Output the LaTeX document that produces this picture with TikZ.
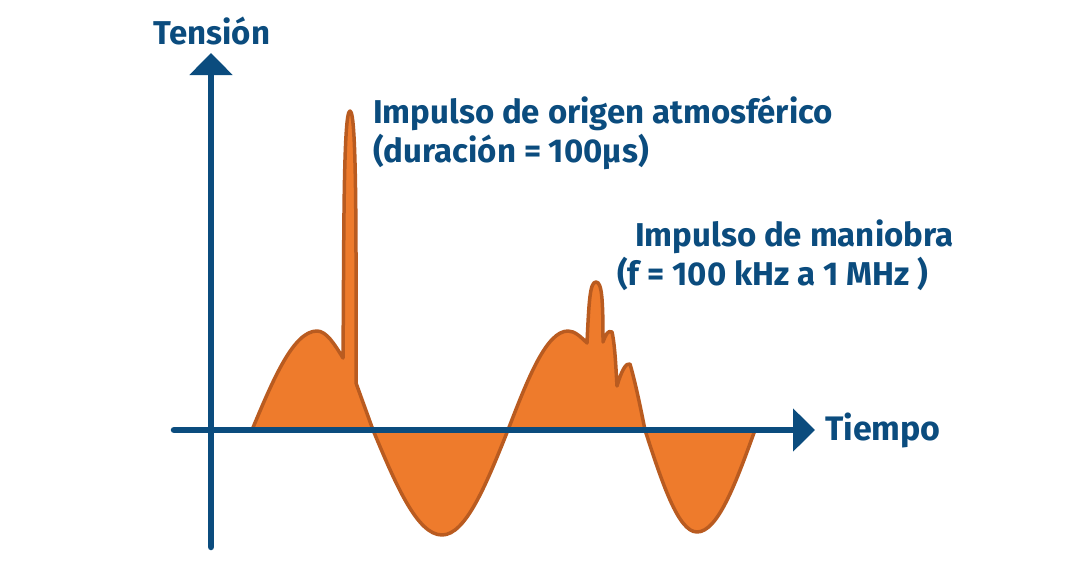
\documentclass[tikz,border=0pt]{standalone}
\usepackage{fontspec}
\setmainfont{Fira Sans}
\usepackage{tikz}
\usetikzlibrary{arrows.meta}
\definecolor{cAxis}{HTML}{0B4C7E}
\definecolor{cWave}{HTML}{EE7B2C}
\definecolor{cWaveLine}{HTML}{B95B20}
\tikzset{
  axisline/.style={line width=6.5pt, cAxis, line cap=round,
                   -{Triangle[length=22pt, width=42pt]}},
  wave/.style={fill=cWave, draw=cWaveLine, line width=3.5pt, line join=round},
  lbl/.style={font=\fontsize{33}{39}\selectfont\bfseries, text=cAxis,
              inner sep=0pt, anchor=base west}
}

\begin{document}
\begin{tikzpicture}[x=1pt, y=-1pt]
\useasboundingbox (0,0) rectangle (1080,565);
\coordinate (yStart) at (211,547);
\coordinate (yEnd) at (211,53);
\coordinate (xStart) at (174,430);
\coordinate (xEnd) at (815,430);
\draw[wave] (252,430) sin (317,331) cos (343,358)
  .. controls (344,250) and (343,111) .. (350,111)
  .. controls (357,111) and (356,250) .. (356,383)
  -- (373,430) sin (442,535) cos (508,430)
  sin (568,331) cos (587,343)
  .. controls (589,300) and (590,282) .. (596,282)
  .. controls (602,282) and (603,300) .. (603,342)
  .. controls (606,334) and (608,330) .. (612,332)
  .. controls (615,345) and (616,370) .. (617,386)
  .. controls (621,372) and (626,362) .. (630,364)
  .. controls (636,385) and (641,410) .. (645,430)
  sin (697,532) cos (755,430) -- cycle;
\draw[axisline] (yStart) -- (yEnd);
\draw[axisline] (xStart) -- (xEnd);
\node[lbl] (tension) at (153,44) {Tensión};
\node[lbl, font=\fontsize{34}{39}\selectfont\bfseries] (tiempo) at (825,440) {Tiempo};
\node[lbl] (atmoTitle) at (373,123) {Impulso de origen atmosférico};
\node[lbl] (atmoDur) at (373,162) {(duración = 100µs)};
\node[lbl] (maniTitle) at (635,246) {Impulso de maniobra};
\node[lbl] (maniFreq) at (617,285) {(f = 100 kHz a 1 MHz )};
\end{tikzpicture}
\end{document}
